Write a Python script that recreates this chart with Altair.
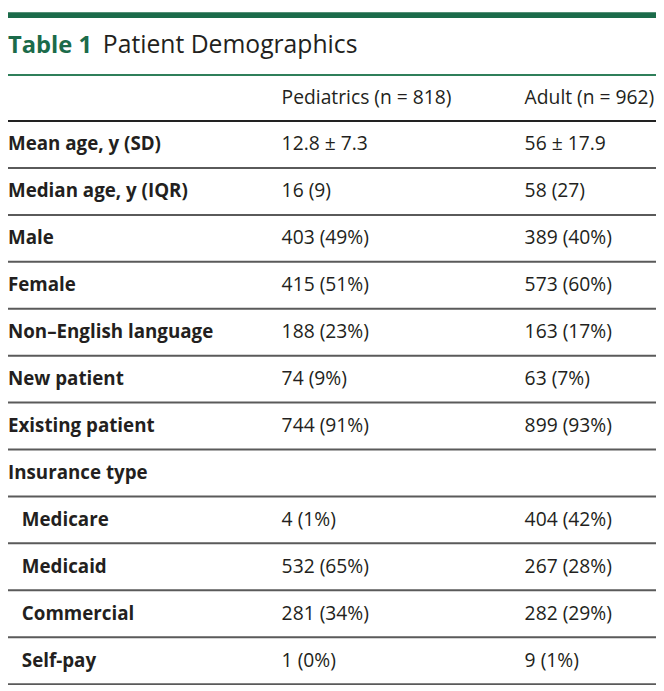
import altair as alt
import pandas as pd

# ---- data ----
row_labels = ["Mean age, y (SD)", "Median age, y (IQR)", "Male", "Female",
              "Non–English language", "New patient", "Existing patient",
              "Insurance type", "Medicare", "Medicaid", "Commercial", "Self-pay"]
pediatrics = ["12.8 ± 7.3", "16 (9)", "403 (49%)", "415 (51%)", "188 (23%)",
              "74 (9%)", "744 (91%)", "", "4 (1%)", "532 (65%)", "281 (34%)", "1 (0%)"]
adult = ["56 ± 17.9", "58 (27)", "389 (40%)", "573 (60%)", "163 (17%)",
         "63 (7%)", "899 (93%)", "", "404 (42%)", "267 (28%)", "282 (29%)", "9 (1%)"]
sub_row = [False, False, False, False, False, False, False, False, True, True, True, True]
col_headers = ["Pediatrics (n = 818)", "Adult (n = 962)"]
title_bold = "Table 1"
title_text = "Patient Demographics"

GREEN = "#1b6b4a"
TEXT = "#231f20"
FONT = "Open Sans"
W, H = 656, 683

body = pd.DataFrame({
    "row": list(range(len(row_labels))),
    "label": row_labels,
    "ped": pediatrics,
    "adult": adult,
    "sub": sub_row,
})
header = pd.DataFrame({"row": [-1], "ped": [col_headers[0]], "adult": [col_headers[1]]})
boundaries = pd.DataFrame({"b": [i + 0.5 for i in range(-1, len(row_labels))],
                           "first": [True] + [False] * len(row_labels)})

PITCH = 47.5
D0 = -134 / PITCH
yscale = alt.Scale(domain=[D0, D0 + H / PITCH], reverse=True, nice=False, zero=False)
Y = alt.Y("row:Q", scale=yscale, axis=None)

bold_text = dict(align="left", baseline="middle", font=FONT, fontSize=19, color=TEXT, dy=0,
                 fontWeight="bold")
reg_text = dict(align="left", baseline="middle", font=FONT, fontSize=19.5, color=TEXT, dy=0)

labels_main = alt.Chart(body).transform_filter("!datum.sub").mark_text(**bold_text).encode(
    x=alt.value(0), y=Y, text="label:N")
labels_sub = alt.Chart(body).transform_filter("datum.sub").mark_text(**bold_text).encode(
    x=alt.value(14), y=Y, text="label:N")
ped_text = alt.Chart(body).mark_text(**reg_text).encode(x=alt.value(277), y=Y, text="ped:N")
adult_text = alt.Chart(body).mark_text(**reg_text).encode(x=alt.value(523), y=Y, text="adult:N")
hdr_ped = alt.Chart(header).mark_text(**reg_text).encode(x=alt.value(277), y=Y, text="ped:N")
hdr_adult = alt.Chart(header).mark_text(**reg_text).encode(x=alt.value(523), y=Y, text="adult:N")

rules = alt.Chart(boundaries).mark_rule(strokeWidth=2).encode(
    y=alt.Y("b:Q", scale=yscale, axis=None),
    x=alt.value(0), x2=alt.value(W),
    color=alt.condition("datum.first", alt.value("#222222"), alt.value("#5a5a5a")),
)

title_df = pd.DataFrame({"bold": [title_bold], "plain": [title_text]})
t1 = alt.Chart(title_df).mark_text(align="left", baseline="alphabetic", font=FONT, fontSize=24,
                                   fontWeight="bold", color=GREEN).encode(
    x=alt.value(0), y=alt.value(41), text="bold:N")
t2 = alt.Chart(title_df).mark_text(align="left", baseline="alphabetic", font=FONT, fontSize=25,
                                   color=TEXT).encode(
    x=alt.value(96), y=alt.value(41), text="plain:N")

top_bar = alt.Chart(title_df).mark_rect(color=GREEN).encode(
    x=alt.value(0), x2=alt.value(W), y=alt.value(0), y2=alt.value(6))
green_rule = alt.Chart(title_df).mark_rule(color="#2f7f5a", strokeWidth=2).encode(
    x=alt.value(0), x2=alt.value(W), y=alt.value(63.5))

chart = alt.layer(top_bar, t1, t2, green_rule, rules, hdr_ped, hdr_adult,
                  labels_main, labels_sub, ped_text, adult_text).properties(
    width=W, height=H, autosize=alt.AutoSizeParams(type="none"), padding=0
).configure_view(stroke=None)

chart.save("out.html", embed_options={"renderer": "svg", "actions": False})
